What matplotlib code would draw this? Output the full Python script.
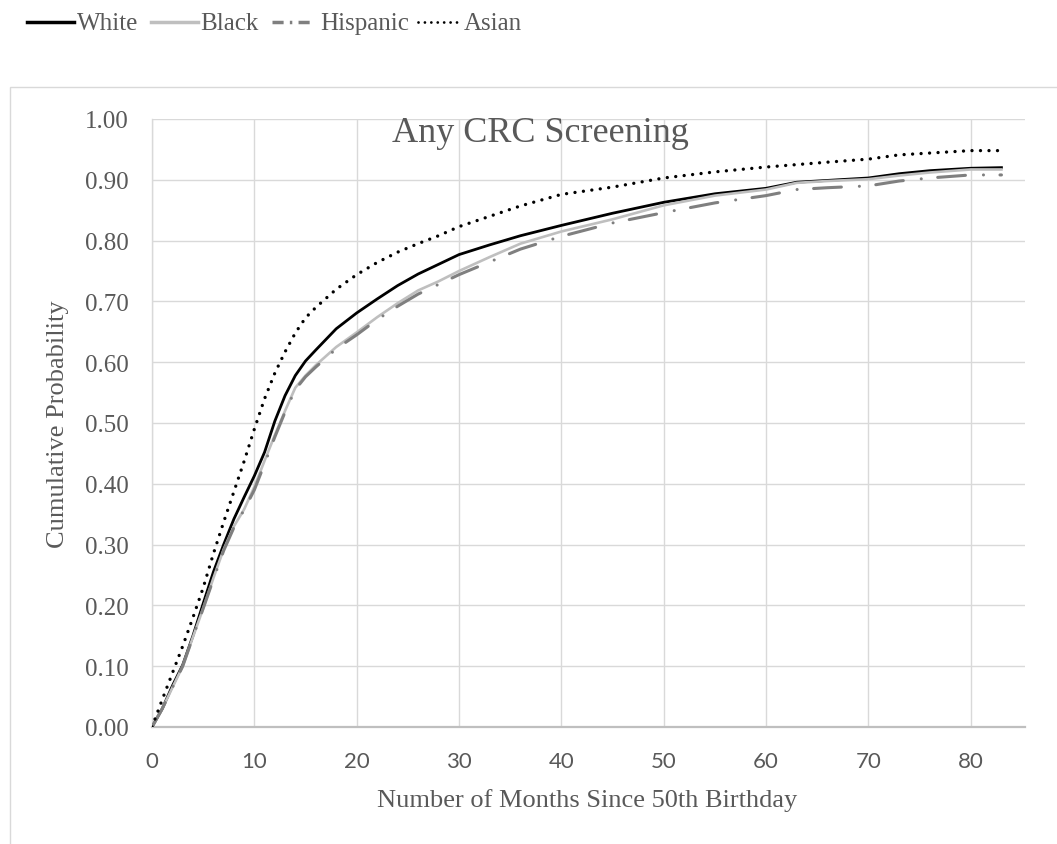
import matplotlib
matplotlib.use("Agg")
import matplotlib.pyplot as plt
from matplotlib.lines import Line2D
from matplotlib.patches import Rectangle

# ---- data ----
months = [0, 1, 2, 3, 4, 5, 6, 7, 8, 9, 10, 11, 12, 13, 14, 15, 16, 18, 20, 22,
          24, 26, 28, 30, 33, 36, 40, 45, 50, 55, 60, 63, 66, 70, 73, 76, 80, 83]

white = [0.000, 0.030, 0.068, 0.102, 0.150, 0.203, 0.255, 0.300, 0.342, 0.378,
         0.413, 0.452, 0.503, 0.545, 0.578, 0.602, 0.620, 0.655, 0.681, 0.704,
         0.726, 0.745, 0.761, 0.777, 0.793, 0.808, 0.825, 0.845, 0.863, 0.877,
         0.886, 0.896, 0.899, 0.903, 0.910, 0.915, 0.919, 0.920]

black = [0.000, 0.030, 0.065, 0.100, 0.148, 0.195, 0.245, 0.292, 0.330, 0.358,
         0.395, 0.438, 0.480, 0.520, 0.558, 0.578, 0.595, 0.625, 0.649, 0.674,
         0.697, 0.718, 0.733, 0.750, 0.773, 0.795, 0.815, 0.835, 0.858, 0.874,
         0.884, 0.895, 0.898, 0.901, 0.907, 0.912, 0.917, 0.917]

hispanic = [0.000, 0.030, 0.065, 0.100, 0.148, 0.195, 0.243, 0.290, 0.328, 0.357,
            0.390, 0.433, 0.477, 0.518, 0.555, 0.576, 0.592, 0.622, 0.645, 0.670,
            0.692, 0.712, 0.728, 0.744, 0.765, 0.786, 0.807, 0.829, 0.846, 0.862,
            0.874, 0.884, 0.887, 0.890, 0.898, 0.903, 0.908, 0.908]

asian = [0.000, 0.045, 0.089, 0.133, 0.180, 0.229, 0.285, 0.337, 0.387, 0.437,
         0.490, 0.540, 0.582, 0.617, 0.648, 0.673, 0.690, 0.720, 0.744, 0.764,
         0.781, 0.795, 0.808, 0.823, 0.840, 0.857, 0.876, 0.888, 0.903, 0.913,
         0.921, 0.925, 0.929, 0.934, 0.941, 0.944, 0.948, 0.948]

series_names = ["White", "Black", "Hispanic", "Asian"]
title = "Any CRC Screening"
xlabel = "Number of Months Since 50th Birthday"
ylabel = "Cumulative Probability"
xticks = [0, 10, 20, 30, 40, 50, 60, 70, 80]
yticks = [0.0, 0.1, 0.2, 0.3, 0.4, 0.5, 0.6, 0.7, 0.8, 0.9, 1.0]

# ---- figure ----
W, H = 1057, 845
fig = plt.figure(figsize=(W / 100, H / 100), dpi=100)
SERIF = ["Liberation Serif", "DejaVu Serif"]
SANS = ["Lato", "DejaVu Sans"]
TXT = "#595959"
GRID = "#d9d9d9"

def fx(px):
    return px / W

def fy(py):
    return 1 - py / H

# outer chart-area border
fig.add_artist(Rectangle((fx(10), -0.1), 1.2, fy(88) + 0.1, transform=fig.transFigure,
                         fill=False, edgecolor=GRID, linewidth=1.0))

ax_l, ax_r, ax_t, ax_b = 152, 1025, 120, 728
ax = fig.add_axes([fx(ax_l), fy(ax_b), (ax_r - ax_l) / W, (ax_b - ax_t) / H])

styles = {
    "White": dict(color="black", lw=2.0, ls="-"),
    "Black": dict(color="#bfbfbf", lw=1.9, ls="-"),
    "Hispanic": dict(color="#7f7f7f", lw=2.2, ls=(0, (9.1, 5.9, 0.01, 5.4)),
                     dash_capstyle="round"),
    "Asian": dict(color="black", lw=2.4, ls=(0, (0.01, 2.54)), dash_capstyle="round"),
}
data = {"White": white, "Black": black, "Hispanic": hispanic, "Asian": asian}

for name in series_names:
    ax.plot(months, data[name], zorder=3, solid_joinstyle="round", **styles[name])

ax.set_xlim(0, 85.3)
ax.set_ylim(0, 1.0)
ax.set_xticks(xticks)
ax.set_yticks(yticks)
ax.set_yticklabels([f"{v:.2f}" for v in yticks])
ax.grid(True, color=GRID, lw=1.0, zorder=0)
ax.set_axisbelow(True)
for s in ["top", "right"]:
    ax.spines[s].set_visible(False)
ax.spines["left"].set_color(GRID)
ax.spines["left"].set_linewidth(1.0)
ax.spines["bottom"].set_color("#bfbfbf")
ax.spines["bottom"].set_linewidth(1.6)
ax.spines["bottom"].set_zorder(2)
ax.tick_params(axis="both", length=0)
ax.tick_params(axis="y", pad=17, labelcolor=TXT)
ax.tick_params(axis="x", pad=17, labelcolor=TXT)
for lab in ax.get_yticklabels():
    lab.set_fontfamily(SERIF)
    lab.set_fontsize(18)
for lab in ax.get_xticklabels():
    lab.set_fontfamily(SANS)
    lab.set_fontsize(16)

# title and axis labels
fig.text(fx(540), fy(133), title, ha="center", va="center", fontsize=26,
         color=TXT, family=SERIF)
fig.text(fx(587), fy(801), xlabel, ha="center", va="center", fontsize=19,
         color=TXT, family=SERIF)
fig.text(fx(58), fy(424), ylabel, ha="center", va="center", rotation=90,
         fontsize=19, color=TXT, family=SERIF)

# legend (manual placement, top-left outside the chart area)
leg_y = 23
leg_styles = {
    "White": dict(color="black", lw=2.5, ls="-"),
    "Black": dict(color="#bfbfbf", lw=2.5, ls="-"),
    "Hispanic": dict(color="#7f7f7f", lw=2.5, ls=(0, (3.2, 1.8, 0.7, 1.8, 3.2, 10)),
                     dash_capstyle="butt"),
    "Asian": dict(color="black", lw=2.0, ls=(0, (0.01, 2.3)), dash_capstyle="round"),
}
leg_items = [("White", 27, 74, 77), ("Black", 151, 198, 200),
             ("Hispanic", 272, 310, 320), ("Asian", 418, 462, 464)]
for name, x0, x1, xt in leg_items:
    fig.add_artist(Line2D([fx(x0), fx(x1)], [fy(leg_y), fy(leg_y)],
                          transform=fig.transFigure, **leg_styles[name]))
    fig.text(fx(xt), fy(leg_y + 1), name, ha="left", va="center", fontsize=18,
             color=TXT, family=SERIF)

fig.savefig("out.png", dpi=100)
